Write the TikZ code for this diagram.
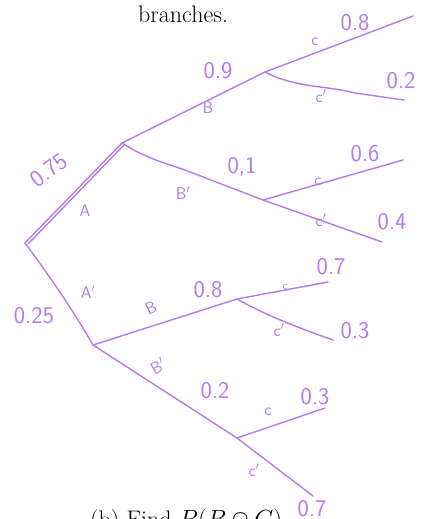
\documentclass[tikz,border=0pt]{standalone}
\definecolor{pen}{RGB}{180,122,234}
\begin{document}
\begin{tikzpicture}[x=1pt,y=-1pt,
  br/.style={draw=pen,line width=1.4pt,line cap=round},
  num/.style={text=pen,font=\sffamily\fontsize{24}{26}\selectfont,inner sep=0pt},
  let/.style={text=pen,font=\sffamily\fontsize{17}{19}\selectfont,inner sep=0pt}]
\useasboundingbox (0,0) rectangle (431,519);
% tree points
\coordinate (root) at (25,243);
\coordinate (A) at (122,143);
\coordinate (AB) at (265,72);
\coordinate (ABC) at (413,16);
\coordinate (ABCp) at (404,100);
\coordinate (ABp) at (263,200);
\coordinate (ABpC) at (403,160);
\coordinate (ABpCp) at (382,242);
\coordinate (Ap) at (93,345);
\coordinate (ApB) at (237,299);
\coordinate (ApBC) at (328,282);
\coordinate (ApBCp) at (333,340);
\coordinate (ApBp) at (237,438);
\coordinate (ApBpC) at (325,408);
\coordinate (ApBpCp) at (313,496);
% branches
\draw[br] (root) -- (A);
\draw[br] ([shift={(3,1)}]root) -- ([shift={(2,2)}]A);
\draw[br] (A) -- (AB);
\draw[br] (AB) -- (ABC);
\draw[br] (AB) .. controls (295,88) and (330,86) .. (355,93) -- (ABCp);
\draw[br] (A) .. controls (145,158) and (165,163) .. (185,170) -- (ABp);
\draw[br] (ABp) -- (ABpC);
\draw[br] (ABp) -- (ABpCp);
\draw[br] (root) .. controls (45,270) and (70,305) .. (Ap);
\draw[br] (Ap) -- (ApB);
\draw[br] (ApB) -- (ApBC);
\draw[br] (ApB) .. controls (260,312) and (290,325) .. (ApBCp);
\draw[br] (Ap) -- (ApBp);
\draw[br] (ApBp) -- (ApBpC);
\draw[br] (ApBp) -- (ApBpCp);
% labels
\node[num] (l09) at (218,71) {0.9};
\node[let] (lB1) at (208,108) {B};
\node[let] (lC1) at (315,42) {c};
\node[num] (l08a) at (355,23) {0.8};
\node[let] (lC1p) at (321,96) {c$'$};
\node[num] (l02a) at (401,81) {0.2};
\node[num,rotate=36] (l075) at (49,170) {0.75};
\node[let] (lA) at (85,211) {A};
\node[num] (l01) at (242,167) {0,1};
\node[let] (lB1p) at (183,193) {B$'$};
\node[let] (lC2) at (318,182) {c};
\node[num] (l06) at (365,154) {0.6};
\node[let] (lC2p) at (321,220) {c$'$};
\node[num] (l04) at (392,222) {0.4};
\node[num] (l025) at (34,316) {0.25};
\node[let] (lAp) at (88,292) {A$'$};
\node[let,rotate=25] (lB2) at (151,308) {B};
\node[num] (l08b) at (208,290) {0.8};
\node[let,font=\sffamily\fontsize{11}{12}\selectfont] (lC3) at (285,287) {c};
\node[num] (l07a) at (331,267) {0.7};
\node[let] (lC3p) at (279,330) {c$'$};
\node[num] (l03a) at (355,331) {0.3};
\node[let,rotate=30] (lB2p) at (158,366) {B$'$};
\node[num] (l02b) at (215,391) {0.2};
\node[let] (lC4) at (268,412) {c};
\node[num] (l03b) at (315,397) {0.3};
\node[let] (lC4p) at (254,470) {c$'$};
\node[num] (l07b) at (312,509) {0.7};
% printed text
\node[anchor=base west,inner sep=0pt,font=\fontsize{24}{28}\selectfont] (top) at (138,23) {branches.};
\node[anchor=base west,inner sep=0pt,font=\fontsize{24}{28}\selectfont] (bot) at (90,527) {(b) Find $P(B\cap C)$};
\end{tikzpicture}
\end{document}
